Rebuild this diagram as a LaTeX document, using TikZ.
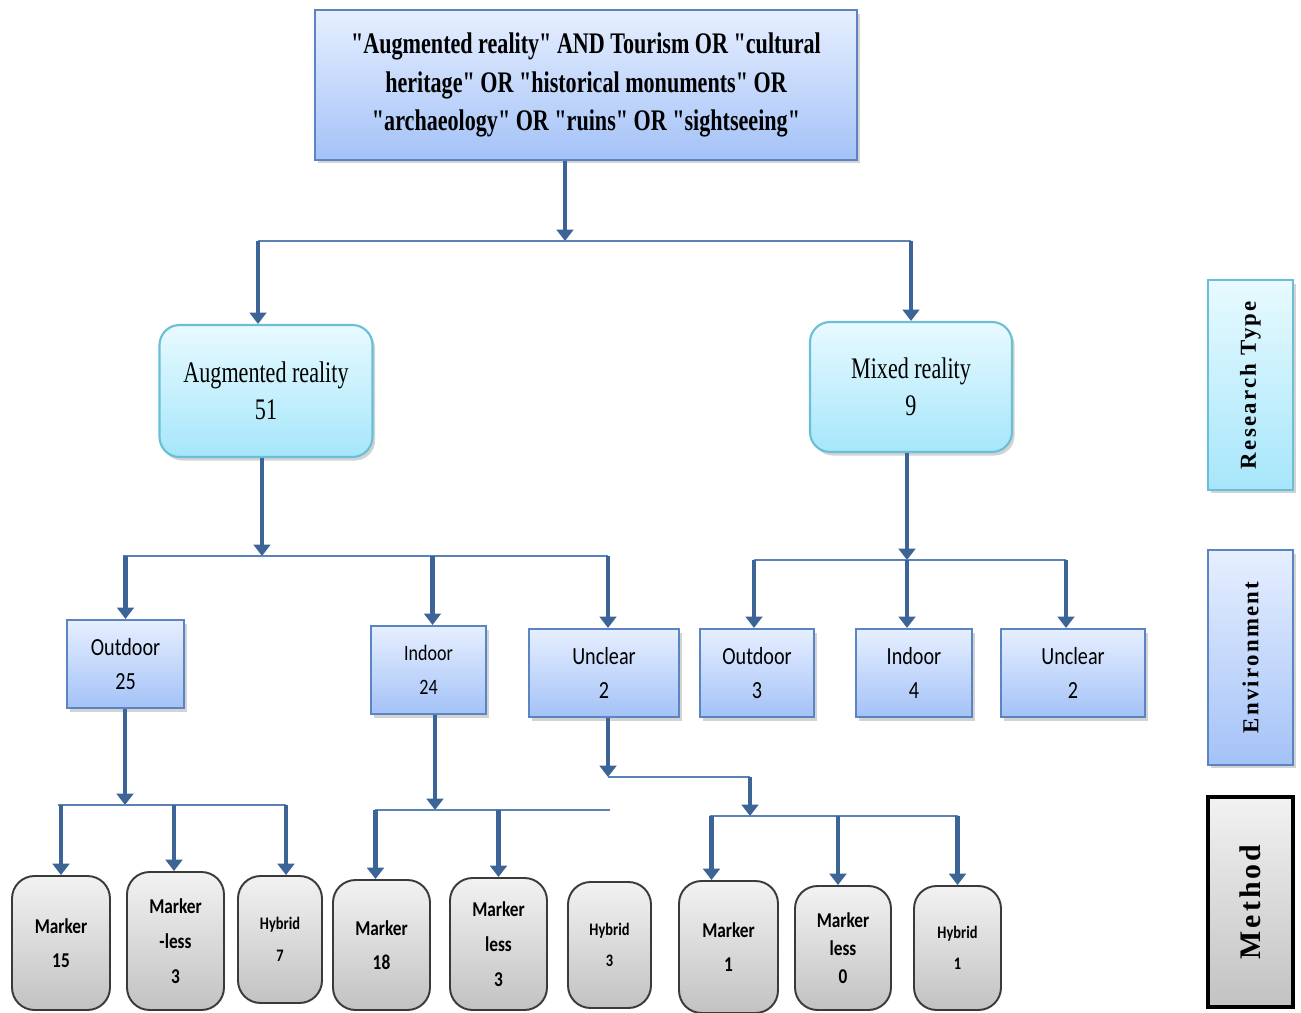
\documentclass[tikz,border=0pt]{standalone}
\usepackage{graphicx}
\usepackage{fontspec}
\setmainfont{Liberation Serif}
\newfontfamily\serifnarrow[FakeStretch=0.74]{Liberation Serif}
\newfontfamily\sansnarrow[FakeStretch=0.82]{Carlito}
\newfontfamily\legendfont[LetterSpace=10]{Liberation Serif}
\usetikzlibrary{arrows.meta,shadows}

\definecolor{arrowblue}{HTML}{3C6496}
\definecolor{busblue}{HTML}{5A82B4}
\definecolor{qtop}{HTML}{E6EFFF}
\definecolor{qbot}{HTML}{A4C2F7}
\definecolor{qline}{HTML}{5A84C2}
\definecolor{ctop}{HTML}{E8FAFF}
\definecolor{cbot}{HTML}{A6E6FA}
\definecolor{cline}{HTML}{6ABED6}
\definecolor{gtop}{HTML}{F2F2F2}
\definecolor{gbot}{HTML}{C2C2C2}
\definecolor{gline}{HTML}{3A3A3A}

\tikzset{
  shade/.style={drop shadow={opacity=0.35, shadow xshift=1.5pt, shadow yshift=-2pt}},
  qbox/.style={draw=qline, line width=1.2pt, top color=qtop, bottom color=qbot,
    shade, align=center, inner sep=0pt},
  envbox/.style={qbox, minimum height=1.76cm, font=\sansnarrow\fontsize{14}{19}\selectfont},
  typebox/.style={draw=cline, line width=1.2pt, rounded corners=0.4cm, top color=ctop,
    bottom color=cbot, shade, align=center, inner sep=0pt,
    font=\serifnarrow\fontsize{17}{21}\selectfont},
  methbox/.style={draw=gline, line width=1.1pt, rounded corners=0.45cm, top color=gtop,
    bottom color=gbot, align=center, inner sep=0pt,
    font=\sansnarrow\bfseries\fontsize{12}{19}\selectfont},
  legbox/.style={minimum width=1.7cm, align=center, inner sep=0pt,
    font=\legendfont\bfseries\fontsize{13}{16}\selectfont},
  stem/.style={draw=arrowblue, line width=2.8pt, -{Triangle[width=9.5pt,length=6.5pt]}},
  bus/.style={draw=busblue, line width=1.6pt}
}

\begin{document}
\begin{tikzpicture}[x=0.02cm, y=-0.02cm]
  \useasboundingbox (0,0) rectangle (1301,1013);

  % search string
  \node[qbox, minimum width=10.84cm, minimum height=3cm,
    font=\serifnarrow\bfseries\fontsize{17}{22}\selectfont] (qry) at (586,85)
    {"Augmented reality" AND Tourism OR "cultural\\
     heritage" OR "historical monuments" OR\\
     "archaeology" OR "ruins" OR "sightseeing"};

  % research type
  \node[typebox, minimum width=4.26cm, minimum height=2.64cm] (ar) at (266,391) {Augmented reality\\51};
  \node[typebox, minimum width=4.04cm, minimum height=2.6cm] (mr) at (911,387) {Mixed reality\\9};

  % environment
  \node[envbox, minimum width=2.34cm] (o25) at (125.5,664) {Outdoor\\25};
  \node[envbox, minimum width=2.3cm, font=\sansnarrow\fontsize{12.5}{19}\selectfont] (i24) at (428.5,670) {Indoor\\24};
  \node[envbox, minimum width=3cm] (u2) at (604,673) {Unclear\\2};
  \node[envbox, minimum width=2.28cm] (o3) at (757,673) {Outdoor\\3};
  \node[envbox, minimum width=2.32cm] (i4) at (914,673) {Indoor\\4};
  \node[envbox, minimum width=2.88cm] (u2b) at (1073,673) {Unclear\\2};

  % method
  \node[methbox, minimum width=1.96cm, minimum height=2.68cm] (m15) at (61,943) {Marker\\15};
  \node[methbox, minimum width=1.94cm, minimum height=2.76cm, font=\sansnarrow\bfseries\fontsize{12}{20}\selectfont] (ml3) at (175.5,941) {Marker\\-less\\3};
  \node[methbox, minimum width=1.68cm, minimum height=2.54cm, font=\sansnarrow\bfseries\fontsize{10}{18}\selectfont] (h7) at (280,939.5) {Hybrid\\7};
  \node[methbox, minimum width=1.94cm, minimum height=2.6cm] (m18) at (381.5,945) {Marker\\18};
  \node[methbox, minimum width=1.94cm, minimum height=2.64cm, font=\sansnarrow\bfseries\fontsize{12}{20}\selectfont] (ml3b) at (498.5,944) {Marker\\less\\3};
  \node[methbox, minimum width=1.66cm, minimum height=2.52cm, font=\sansnarrow\bfseries\fontsize{10}{18}\selectfont] (h3) at (609.5,945) {Hybrid\\3};
  \node[methbox, minimum width=1.98cm, minimum height=2.64cm] (m1) at (728.5,947) {Marker\\1};
  \node[methbox, minimum width=1.92cm, minimum height=2.48cm, font=\sansnarrow\bfseries\fontsize{12}{16}\selectfont] (ml0) at (843,948) {Marker\\less\\0};
  \node[methbox, minimum width=1.74cm, minimum height=2.48cm, font=\sansnarrow\bfseries\fontsize{10}{18}\selectfont] (h1) at (957.5,948) {Hybrid\\1};

  % legend
  \node[legbox, draw=cline, line width=1.2pt, top color=ctop, bottom color=cbot, shade,
    minimum height=4.2cm] (lrt) at (1250.5,385) {\rotatebox{90}{Research Type}};
  \node[legbox, draw=qline, line width=1.2pt, top color=qtop, bottom color=qbot, shade,
    minimum height=4.3cm] (lenv) at (1250.5,657.5) {\rotatebox{90}{Environment}};
  \node[legbox, draw=black, line width=1.8pt, top color=gtop, bottom color=gbot,
    minimum height=4.2cm, font=\legendfont\bfseries\fontsize{17}{20}\selectfont]
    (lmeth) at (1250.5,902) {\rotatebox{90}{Method}};

  % junctions
  \coordinate (qj) at (565,241);
  \coordinate (aj) at (262,556);
  \coordinate (mj) at (907,560);
  \coordinate (oj) at (125,805);
  \coordinate (ij) at (435,810);
  \coordinate (uj) at (608,777);
  \coordinate (uk) at (750,816);

  % query to research type
  \draw[stem] (qry.south -| qj) -- (qj);
  \draw[bus] ([xshift=-0.16cm]ar.north |- qj) -- (mr.north |- qj);
  \draw[stem] ([xshift=-0.16cm]ar.north |- qj) -- ([xshift=-0.16cm]ar.north);
  \draw[stem] (mr.north |- qj) -- (mr.north);

  % research type to environment
  \draw[stem] (ar.south -| aj) -- (aj);
  \draw[bus] ([xshift=-0.06cm]o25.north |- aj) -- ([xshift=0.08cm]u2.north |- aj);
  \draw[stem] (o25.north |- aj) -- (o25.north);
  \draw[stem] ([xshift=0.08cm]i24.north |- aj) -- ([xshift=0.08cm]i24.north);
  \draw[stem] ([xshift=0.08cm]u2.north |- aj) -- ([xshift=0.08cm]u2.north);
  \draw[stem] (mr.south -| mj) -- (mj);
  \draw[bus] ([xshift=-0.06cm]o3.north |- mj) -- ([xshift=-0.14cm]u2b.north |- mj);
  \draw[stem] ([xshift=-0.06cm]o3.north |- mj) -- ([xshift=-0.06cm]o3.north);
  \draw[stem] (mj) -- (mj |- i4.north);
  \draw[stem] ([xshift=-0.14cm]u2b.north |- mj) -- ([xshift=-0.14cm]u2b.north);

  % environment to method
  \draw[stem] (o25.south -| oj) -- (oj);
  \draw[bus] ([xshift=-0.06cm]m15.north |- oj) -- ([xshift=0.12cm]h7.north |- oj);
  \draw[stem] (m15.north |- oj) -- (m15.north);
  \draw[stem] ([xshift=-0.03cm]ml3.north |- oj) -- ([xshift=-0.03cm]ml3.north);
  \draw[stem] ([xshift=0.12cm]h7.north |- oj) -- ([xshift=0.12cm]h7.north);

  \draw[stem] (i24.south -| ij) -- (ij);
  \draw[bus] ([xshift=-0.14cm]m18.north |- ij) -- (h3.north |- ij);
  \draw[stem] ([xshift=-0.12cm]m18.north |- ij) -- ([xshift=-0.12cm]m18.north);
  \draw[stem] (ml3b.north |- ij) -- (ml3b.north);

  \draw[stem] (u2.south -| uj) -- (uj);
  \draw[bus] (uj) -- (uj -| uk);
  \draw[stem] (uj -| uk) -- (uk);
  \draw[bus] ([xshift=-0.38cm]m1.north |- uk) -- (h1.north |- uk);
  \draw[stem] ([xshift=-0.34cm]m1.north |- uk) -- ([xshift=-0.34cm]m1.north);
  \draw[stem] ([xshift=-0.1cm]ml0.north |- uk) -- ([xshift=-0.1cm]ml0.north);
  \draw[stem] (h1.north |- uk) -- (h1.north);
\end{tikzpicture}
\end{document}
